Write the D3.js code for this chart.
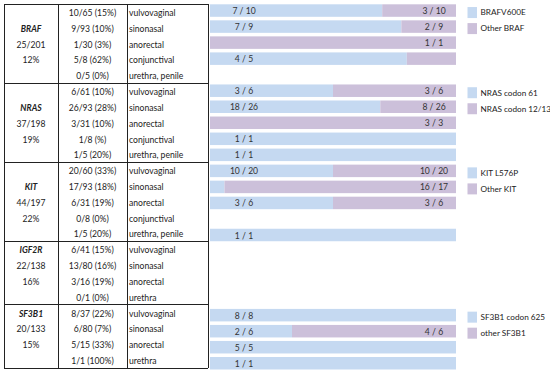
<!DOCTYPE html>
<html><head><meta charset="utf-8">
<script src="https://cdn.jsdelivr.net/npm/d3@7"></script>
<style>body{margin:0;background:#fff}svg{display:block}</style>
</head><body>
<svg id="c" width="550" height="371"></svg>
<script>
// ---- data ----
const genes = ["BRAF","NRAS","KIT","IGF2R","SF3B1"];
const geneCounts = ["25/201","37/198","44/197","22/138","20/133"];
const genePercents = ["12%","19%","22%","16%","15%"];
const groupSizes = [5,5,5,4,4];
const rowCounts = ["10/65 (15%)","9/93 (10%)","1/30 (3%)","5/8 (62%)","0/5 (0%)",
  "6/61 (10%)","26/93 (28%)","3/31 (10%)","1/8 (%)","1/5 (20%)",
  "20/60 (33%)","17/93 (18%)","6/31 (19%)","0/8 (0%)","1/5 (20%)",
  "6/41 (15%)","13/80 (16%)","3/16 (19%)","0/1 (0%)",
  "8/37 (22%)","6/80 (7%)","5/15 (33%)","1/1 (100%)"];
const sites = ["vulvovaginal","sinonasal","anorectal","conjunctival","urethra, penile",
  "vulvovaginal","sinonasal","anorectal","conjunctival","urethra, penile",
  "vulvovaginal","sinonasal","anorectal","conjunctival","urethra, penile",
  "vulvovaginal","sinonasal","anorectal","urethra",
  "vulvovaginal","sinonasal","anorectal","urethra"];
const hotspot = [7,7,0,4,0, 3,18,0,1,1, 10,1,3,0,1, 0,0,0,0, 8,2,5,1];
const other   = [3,2,1,1,0, 3,8,3,0,0, 10,16,3,0,0, 0,0,0,0, 0,4,0,0];
const legendHot = ["BRAFV600E","NRAS codon 61","KIT L576P",null,"SF3B1 codon 625"];
const legendOther = ["Other BRAF","NRAS codon 12/13","Other KIT",null,"other SF3B1"];

const BLUE = "#c5d9f1", PURPLE = "#ccc0da";
const FONT = "Lato, 'Open Sans', sans-serif";
const FS = 8.6;

const svg = d3.select("#c");
const n = rowCounts.length;
const idx = d3.range(n);

// table geometry
const tTop = 4, tBot = 368;
const yRow = d3.scaleBand().domain(idx).range([tTop, tBot]).paddingInner(0).paddingOuter(0);
const yBar = d3.scaleBand().domain(idx).range([4.3, 369.5]).paddingInner(0.22).paddingOuter(0);
const x = d3.scaleLinear().domain([0,1]).range([210, 456]);
const colX = [4, 58, 127, 208];

// group start indices
const starts = [];
let acc = 0;
groupSizes.forEach(s => { starts.push(acc); acc += s; });

// bars
const g = svg.append("g");
idx.forEach(i => {
  const tot = hotspot[i] + other[i];
  if (!tot) return;
  const fh = hotspot[i]/tot;
  const yb = yBar(i), h = yBar.bandwidth();
  if (hotspot[i] > 0) g.append("rect").attr("x", x(0)).attr("y", yb).attr("width", x(fh)-x(0)).attr("height", h).attr("fill", BLUE);
  if (other[i] > 0) g.append("rect").attr("x", x(fh)).attr("y", yb).attr("width", x(1)-x(fh)).attr("height", h).attr("fill", PURPLE);
  const ty = yb + h/2 + 0.5;
  if (hotspot[i] > 0 && fh >= 0.2)
    g.append("text").attr("x", x(0)+34).attr("y", ty).attr("dy","0.35em").attr("text-anchor","middle")
      .text(hotspot[i] + " / " + tot);
  if (other[i] > 0 && (1-fh) >= 0.2)
    g.append("text").attr("x", x(1)-22).attr("y", ty).attr("dy","0.35em").attr("text-anchor","middle")
      .text(other[i] + " / " + tot);
});
g.selectAll("text").attr("font-family", FONT).attr("font-size", FS).attr("fill", "#333");

// table text
const tg = svg.append("g").attr("font-family", FONT).attr("font-size", FS).attr("fill", "#222");
idx.forEach(i => {
  const cy = yRow(i) + yRow.bandwidth()/2 + 1;
  tg.append("text").attr("x", (colX[1]+colX[2])/2).attr("y", cy).attr("dy","0.35em").attr("text-anchor","middle").text(rowCounts[i]);
  tg.append("text").attr("x", colX[2]+2).attr("y", cy).attr("dy","0.35em").text(sites[i]);
});
genes.forEach((gn, k) => {
  const off = groupSizes[k] === 5 ? 1 : 0;
  const r0 = starts[k] + off;
  const cx = (colX[0]+colX[1])/2;
  const c = r => yRow(r) + yRow.bandwidth()/2 + 1;
  tg.append("text").attr("x", cx).attr("y", c(r0)).attr("dy","0.35em").attr("text-anchor","middle")
    .attr("font-weight","bold").attr("font-style","italic").text(gn);
  tg.append("text").attr("x", cx).attr("y", c(r0+1)).attr("dy","0.35em").attr("text-anchor","middle").text(geneCounts[k]);
  tg.append("text").attr("x", cx).attr("y", c(r0+2)).attr("dy","0.35em").attr("text-anchor","middle").text(genePercents[k]);
});

// table lines
const lg = svg.append("g").attr("stroke", "#222").attr("stroke-width", 1).attr("shape-rendering","crispEdges");
colX.forEach(cx => lg.append("line").attr("x1", cx).attr("x2", cx).attr("y1", tTop).attr("y2", tBot));
starts.concat([n]).forEach(s => {
  const yy = s === n ? tBot : yRow(s);
  lg.append("line").attr("x1", colX[0]).attr("x2", colX[3]).attr("y1", yy).attr("y2", yy);
});

// legends
const leg = svg.append("g").attr("font-family", FONT).attr("font-size", 8.2).attr("fill", "#222");
genes.forEach((gn, k) => {
  if (!legendHot[k]) return;
  [[legendHot[k], BLUE], [legendOther[k], PURPLE]].forEach(([lab, col], j) => {
    const r = starts[k] + j;
    const cy = yBar(r) + yBar.bandwidth()/2 + 2;
    leg.append("rect").attr("x", 467.5).attr("y", cy - 5.5).attr("width", 9.5).attr("height", 11).attr("fill", col);
    leg.append("text").attr("x", 480.5).attr("y", cy).attr("dy","0.35em").text(lab);
  });
});
</script>
</body></html>
